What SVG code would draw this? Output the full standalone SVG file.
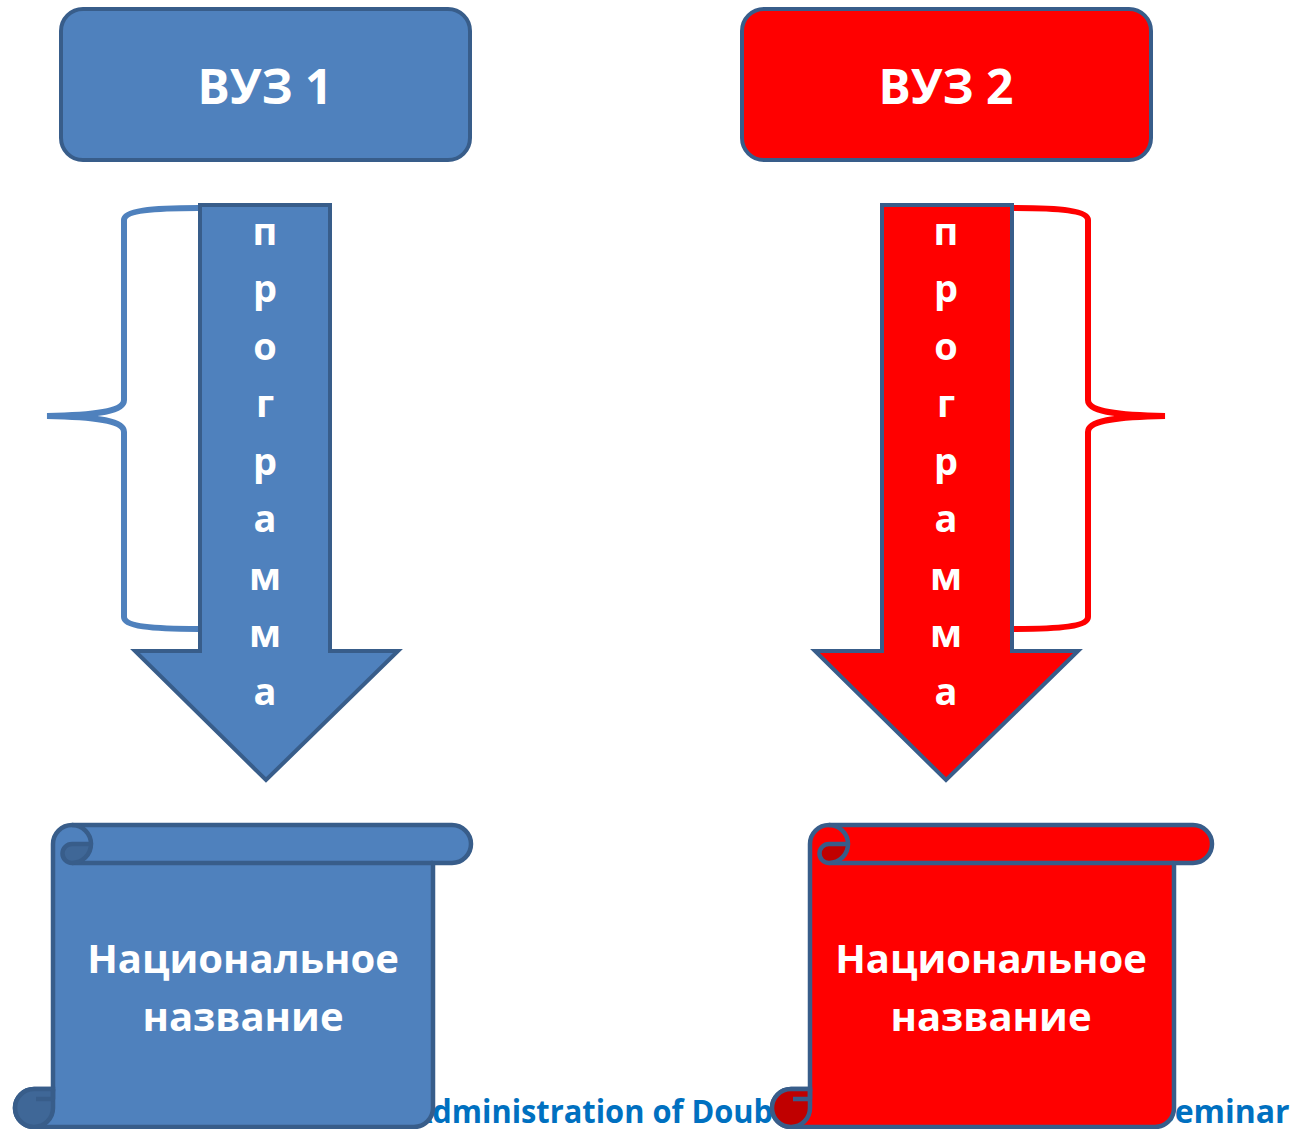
<svg xmlns="http://www.w3.org/2000/svg" width="1297" height="1129" viewBox="0 0 1297 1129">
<style>
.box{stroke:#385D8A;stroke-width:4}
.scr{stroke:#385D8A;stroke-width:4.5}
.blue{fill:#4F81BD}
.red{fill:#FF0000}
.dkblue{fill:#3F6797}
.dkred{fill:#C00000}
.ln{fill:none;stroke:#385D8A;stroke-width:4.5;stroke-linejoin:round}
.head{font-family:"Open Sans","Liberation Sans",sans-serif;font-weight:bold;font-size:48px;fill:#fff;text-anchor:middle}
.let{font-family:"Open Sans","Liberation Sans",sans-serif;font-weight:bold;font-size:38px;fill:#fff;text-anchor:middle}
.nat{font-family:"Open Sans","Liberation Sans",sans-serif;font-weight:bold;font-size:40px;fill:#fff;text-anchor:middle}
.foot{font-family:"Open Sans","Liberation Sans",sans-serif;font-weight:bold;font-size:32px;fill:#0070C0}
.brace{fill:none;stroke-width:6;stroke-linecap:butt}
</style>
<rect width="1297" height="1129" fill="#fff"/>

<g id="footer">
<text class="foot" x="411" y="1123" textLength="362" lengthAdjust="spacingAndGlyphs">Administration of Doub</text>
<text class="foot" x="1157" y="1123">Seminar</text>
</g>

<g id="vuz1">
<rect class="box blue" x="61" y="9" width="409" height="151" rx="22"/>
<text class="head" x="265" y="104">ВУЗ 1</text>
</g>
<g id="vuz2">
<rect class="box red" x="742" y="9" width="409" height="151" rx="22"/>
<text class="head" x="946" y="104">ВУЗ 2</text>
</g>

<g id="connectors">
<g id="arrow1">
<polygon class="box blue" points="200,205 330,205 330,651 398,651 266,780 135,651 200,651"/>
<text class="let" x="265" y="245">п</text>
<text class="let" x="265" y="302">р</text>
<text class="let" x="265" y="360">о</text>
<text class="let" x="265" y="417">г</text>
<text class="let" x="265" y="475">р</text>
<text class="let" x="265" y="532">а</text>
<text class="let" x="265" y="590">м</text>
<text class="let" x="265" y="647">м</text>
<text class="let" x="265" y="705">а</text>
</g>
<g id="arrow2">
<polygon class="box red" points="882,205 1012,205 1012,651 1078,651 946,780 815,651 882,651"/>
<text class="let" x="946" y="245">п</text>
<text class="let" x="946" y="302">р</text>
<text class="let" x="946" y="360">о</text>
<text class="let" x="946" y="417">г</text>
<text class="let" x="946" y="475">р</text>
<text class="let" x="946" y="532">а</text>
<text class="let" x="946" y="590">м</text>
<text class="let" x="946" y="647">м</text>
<text class="let" x="946" y="705">а</text>
</g>
</g>

<g id="brace1">
<path class="brace" stroke="#4F81BD" d="M198,208 C150,208 124,211 124,220 L124,400 C124,411 100,415 47,416 C100,417 124,421 124,432 L124,617 C124,626 150,629 198,629"/>
</g>
<g id="brace2">
<path class="brace" stroke="#FF0000" d="M1014,208 C1062,208 1088,211 1088,220 L1088,400 C1088,411 1112,415 1165,416 C1112,417 1088,421 1088,432 L1088,617 C1088,626 1062,629 1014,629"/>
</g>

<g id="scroll1">
<path class="scr blue" d="M53,844 A19,19 0 0 1 72,825 L452,825 A19,19 0 0 1 452,863 L433,863 L433,1108 A19,19 0 0 1 414,1127 L34,1127 A19,19 0 0 1 34,1089 L53,1089 Z"/>
<path class="ln" d="M72,863 L433,863"/>
<path class="ln" d="M72,825 A19,19 0 0 1 91,844"/>
<path class="dkblue" stroke="#385D8A" stroke-width="4.5" stroke-linejoin="round" d="M91,844 A19,19 0 0 1 72,863 A9.5,9.5 0 0 1 72,844 Z"/>
<path class="dkblue" stroke="#385D8A" stroke-width="4.5" d="M53,1089 L53,1108 A19,19 0 0 1 34,1127 A19,19 0 0 1 34,1089 Z"/>
<path class="ln" d="M53,1089 L53,1099 L36,1099"/>
<text class="nat" x="243" y="973">Национальное</text>
<text class="nat" x="243" y="1031">название</text>
</g>

<g id="scroll2">
<path class="scr red" d="M810,844 A19,19 0 0 1 829,825 L1193,825 A19,19 0 0 1 1193,863 L1174,863 L1174,1108 A19,19 0 0 1 1155,1127 L791,1127 A19,19 0 0 1 791,1089 L810,1089 Z"/>
<path class="ln" d="M829,863 L1174,863"/>
<path class="ln" d="M829,825 A19,19 0 0 1 848,844"/>
<path class="dkred" stroke="#385D8A" stroke-width="4.5" stroke-linejoin="round" d="M848,844 A19,19 0 0 1 829,863 A9.5,9.5 0 0 1 829,844 Z"/>
<path class="dkred" stroke="#385D8A" stroke-width="4.5" d="M810,1089 L810,1108 A19,19 0 0 1 791,1127 A19,19 0 0 1 791,1089 Z"/>
<path class="ln" d="M810,1089 L810,1099 L793,1099"/>
<text class="nat" x="991" y="973">Национальное</text>
<text class="nat" x="991" y="1031">название</text>
</g>
</svg>
